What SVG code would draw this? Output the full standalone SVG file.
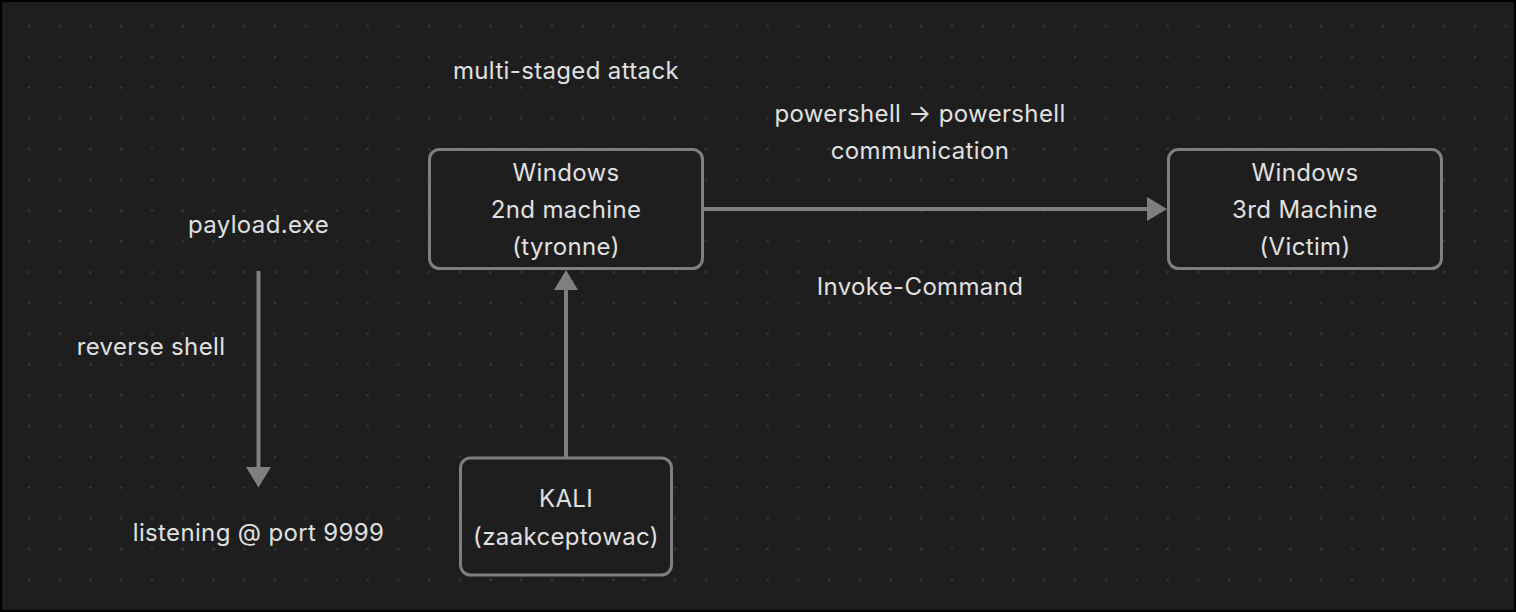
<svg xmlns="http://www.w3.org/2000/svg" width="1516" height="612" viewBox="0 0 1516 612">
<defs>
<style>
.t{font-family:Inter,"Noto Sans","Liberation Sans",sans-serif;font-size:24px;letter-spacing:0.35px;fill:#e0e0e0;text-anchor:middle}
.box{fill:#1e1e1e;stroke:#7f7f7f;stroke-width:3}
.edge{stroke:#7f7f7f;stroke-width:4;fill:none}
.head{fill:#7f7f7f}
</style>
<pattern id="dots" patternUnits="userSpaceOnUse" x="13.615" y="10.615" width="30.77" height="30.77">
<circle cx="15.385" cy="15.385" r="1.3" fill="#3a3a3a"/>
</pattern>
</defs>
<rect x="0" y="0" width="1516" height="612" fill="#000"/>
<rect x="2" y="2" width="1512" height="608" fill="#1e1e1e"/>
<rect x="2" y="2" width="1512" height="608" fill="url(#dots)"/>

<g id="connectors">
<line class="edge" x1="704" y1="209" x2="1148" y2="209"/>
<polygon class="head" points="1167,209 1147,197 1147,221"/>
<line class="edge" x1="566" y1="457" x2="566" y2="288"/>
<polygon class="head" points="566,270 554,290 578,290"/>
<line class="edge" x1="258.5" y1="271" x2="258.5" y2="469"/>
<polygon class="head" points="258.5,487.5 246,467 271,467"/>
</g>

<g id="n-windows2">
<rect class="box" x="429.5" y="149.5" width="273" height="119" rx="10"/>
<text class="t" x="566" y="180.7">Windows</text>
<text class="t" x="566" y="217.7">2nd machine</text>
<text class="t" x="566" y="254.7">(tyronne)</text>
</g>

<g id="n-windows3">
<rect class="box" x="1168.5" y="149.5" width="273" height="119" rx="10"/>
<text class="t" x="1305" y="180.7">Windows</text>
<text class="t" x="1305" y="217.7">3rd Machine</text>
<text class="t" x="1305" y="254.7">(Victim)</text>
</g>

<g id="n-kali">
<rect class="box" x="460.5" y="458" width="211" height="117" rx="10"/>
<text class="t" x="566" y="507">KALI</text>
<text class="t" x="566" y="544.5">(zaakceptowac)</text>
</g>

<g id="labels">
<text class="t" x="566" y="79">multi-staged attack</text>
<text class="t" x="920" y="121.7">powershell → powershell</text>
<text class="t" x="920" y="158.5">communication</text>
<text class="t" x="920" y="294.5">Invoke-Command</text>
<text class="t" x="258.5" y="233.3">payload.exe</text>
<text class="t" x="151" y="355.3">reverse shell</text>
<text class="t" x="258.5" y="540.7">listening @ port 9999</text>
</g>
</svg>
